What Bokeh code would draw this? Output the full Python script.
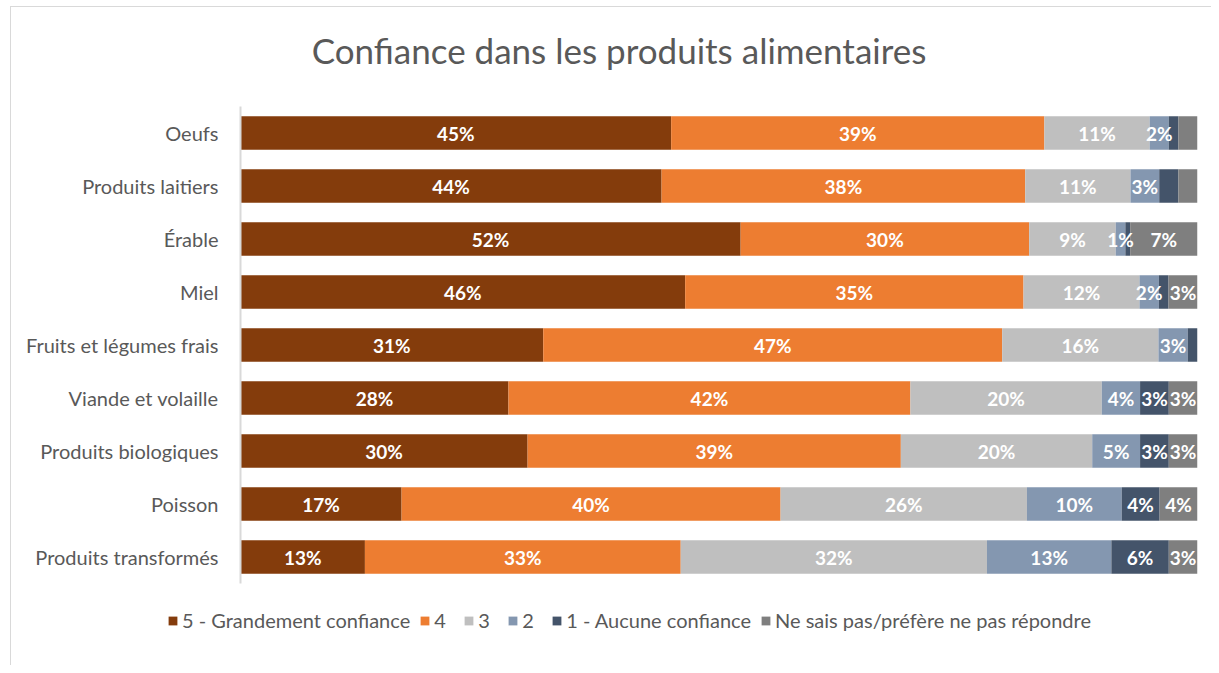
from bokeh.plotting import figure
from bokeh.layouts import column
from bokeh.models import ColumnDataSource, FactorRange, Legend, LegendItem, Range1d, LabelSet, Div
from bokeh.core.properties import value
from bokeh.embed import file_html
from bokeh.resources import INLINE

title_text = "Confiance dans les produits alimentaires"
categories = ["Oeufs", "Produits laitiers", "Érable", "Miel", "Fruits et légumes frais",
              "Viande et volaille", "Produits biologiques", "Poisson", "Produits transformés"]
series = ["5 - Grandement confiance", "4", "3", "2", "1 - Aucune confiance",
          "Ne sais pas/préfère ne pas répondre"]
s5 = [45, 44, 52, 46, 31, 28, 30, 17, 13]
s4 = [39, 38, 30, 35, 47, 42, 39, 40, 33]
s3 = [11, 11, 9, 12, 16, 20, 20, 26, 32]
s2 = [2, 3, 1, 2, 3, 4, 5, 10, 13]
s1 = [1, 2, 0.5, 1, 1, 3, 3, 4, 6]
nsp = [2, 2, 7, 3, 0, 3, 3, 4, 3]
colors = ["#843C0C", "#ED7D31", "#BFBFBF", "#8497B0", "#44546A", "#7F7F7F"]

values = [s5, s4, s3, s2, s1, nsp]
totals = [sum(v[i] for v in values) for i in range(len(categories))]

FONT = "Lato"
GREY = "#595959"

title = Div(text=title_text, width=1200, height=86, margin=0,
            styles={"font-family": FONT, "font-size": "35px", "color": GREY,
                    "line-height": "86px", "text-align": "center", "text-indent": "16px",
                    "white-space": "nowrap"})

p = figure(frame_width=957, frame_height=477, output_backend="svg", toolbar_location=None,
           y_range=FactorRange(*list(reversed(categories)), range_padding=0),
           x_range=Range1d(0, 100),
           min_border_left=229, min_border_right=14, min_border_top=13, min_border_bottom=10)

p.xaxis.visible = False
p.xgrid.visible = False
p.ygrid.visible = False
p.outline_line_color = None
p.yaxis.axis_line_color = "#D9D9D9"
p.yaxis.axis_line_width = 2
p.yaxis.major_tick_line_color = None
p.yaxis.minor_tick_line_color = None
p.yaxis.major_label_text_font = FONT
p.yaxis.major_label_text_font_size = "20px"
p.yaxis.major_label_text_color = GREY
p.yaxis.major_label_standoff = 16

# legend strip (separate figure so the legend can span the full width)
lg = figure(frame_width=1200, frame_height=72, output_backend="svg", toolbar_location=None,
            x_range=Range1d(0, 1), y_range=Range1d(0, 1),
            min_border=0, min_border_left=0, min_border_right=0,
            min_border_top=0, min_border_bottom=0)
lg.xaxis.visible = False
lg.yaxis.visible = False
lg.grid.visible = False
lg.outline_line_color = None

items = []
left = [0.0] * len(categories)
for k, (name, vals, col) in enumerate(zip(series, values, colors)):
    w = [v / t * 100 for v, t in zip(vals, totals)]
    right = [l + x for l, x in zip(left, w)]
    mid = [(l + r) / 2 for l, r in zip(left, right)]
    show = [(k < 4 or v >= 3) and v > 0 for v in vals]
    src = ColumnDataSource(dict(cat=categories, left=left, right=right, mid=mid,
                                lab=[f"{v:g}%" if s else "" for v, s in zip(vals, show)]))
    p.hbar(y="cat", left="left", right="right", height=0.63, source=src,
           fill_color=col, line_color=None)
    ls = LabelSet(x="mid", y="cat", text="lab", source=src, text_align="center",
                  text_baseline="middle", text_color="white", text_font=value(FONT),
                  text_font_style="bold", text_font_size="19px")
    p.add_layout(ls)
    # legend swatch renderer, kept outside the visible range
    dummy = lg.hbar(y=[-5], left=[-5], right=[-4], height=0.5,
                    fill_color=col, line_color=None)
    items.append(LegendItem(label=name, renderers=[dummy]))
    left = right

legend = Legend(items=items, orientation="horizontal", location=(156, 33),
                label_text_font=FONT, label_text_font_size="20px", label_text_color=GREY,
                glyph_width=11, glyph_height=11, label_standoff=4, spacing=9,
                border_line_color=None, background_fill_alpha=0, padding=0, margin=0)
lg.add_layout(legend, "center")

layout = column(title, p, lg, spacing=0)
layout.styles = {"margin-left": "10px", "margin-top": "6px",
                 "border-left": "1px solid #D9D9D9", "border-top": "1px solid #D9D9D9"}

open("out.html", "w").write(file_html(layout, INLINE))
